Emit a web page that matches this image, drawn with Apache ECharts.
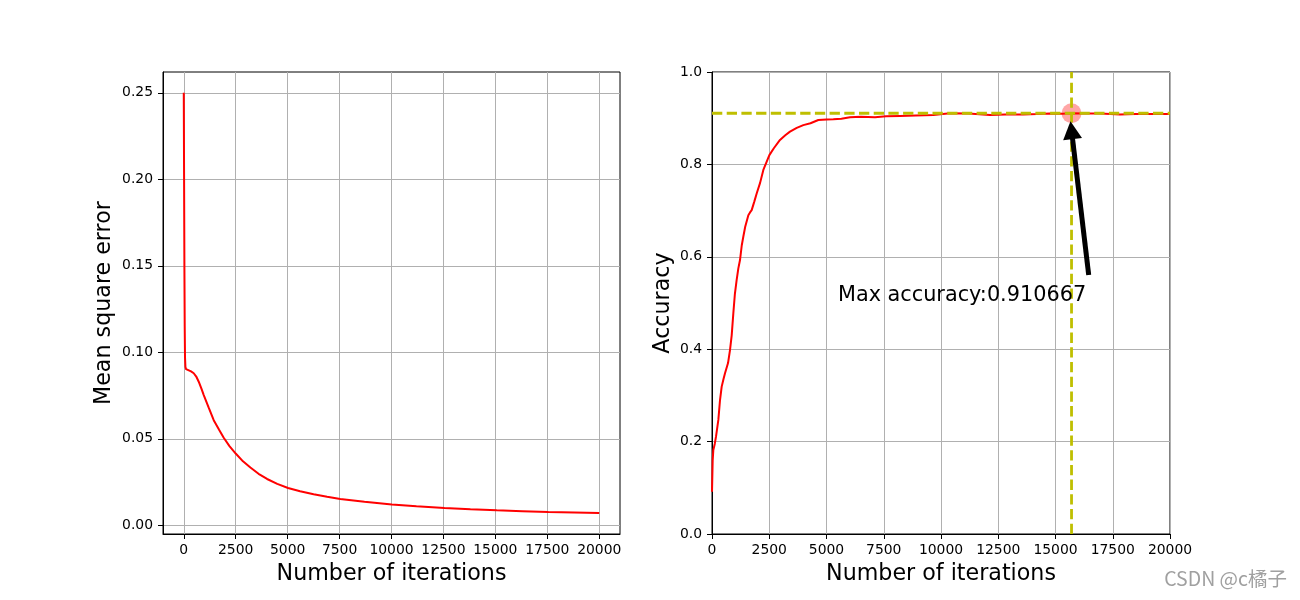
<!DOCTYPE html>
<html><head><meta charset="utf-8">
<script src="https://cdn.jsdelivr.net/npm/echarts@6/dist/echarts.min.js"></script>
<style>html,body{margin:0;padding:0;background:#fff}#c{width:1300px;height:600px}</style>
</head><body><div id="c"></div>
<script>
// ---- data ----
const mseIter = [0, 15, 30, 45, 60, 80, 110, 200, 350, 480, 600, 720, 850, 962, 1200, 1442, 1700, 1923, 2200, 2500, 2850, 3207, 3600, 4010, 4500, 5019, 5600, 6250, 6900, 7532, 8700, 10016, 11200, 12548, 13800, 15067, 16300, 17548, 18800, 20000];
const mseVal  = [0.25, 0.2, 0.15, 0.115, 0.097, 0.0915, 0.0903, 0.0898, 0.0890, 0.0879, 0.0860, 0.0830, 0.0790, 0.0753, 0.0680, 0.0608, 0.0553, 0.0506, 0.0458, 0.0415, 0.0370, 0.0334, 0.0298, 0.0268, 0.0240, 0.0216, 0.0197, 0.0180, 0.0165, 0.0152, 0.0136, 0.0120, 0.0110, 0.0100, 0.0093, 0.0087, 0.0082, 0.0077, 0.0074, 0.0071];

const accIter = [0, 30, 58, 120, 175, 277, 350, 423, 500, 568, 700, 786, 860, 932, 1000, 1077, 1150, 1223, 1300, 1369, 1450, 1587, 1660, 1733, 1850, 1951, 2100, 2242, 2380, 2505, 2700, 2969, 3200, 3406, 3700, 3988, 4300, 4643, 5000, 5298, 5650, 6026, 6500, 7118, 7600, 8210, 8900, 9664, 10393, 11200, 12140, 12800, 13581, 14200, 14760, 15300, 15700, 16300, 16943, 17400, 17817, 18500, 19200, 20000];
const accVal  = [0.0916, 0.16, 0.182, 0.195, 0.2106, 0.247, 0.29, 0.319, 0.335, 0.348, 0.37, 0.398, 0.43, 0.478, 0.52, 0.55, 0.575, 0.593, 0.625, 0.644, 0.665, 0.690, 0.696, 0.701, 0.72, 0.737, 0.76, 0.788, 0.805, 0.820, 0.835, 0.853, 0.863, 0.871, 0.879, 0.885, 0.889, 0.896, 0.897, 0.8976, 0.899, 0.902, 0.903, 0.902, 0.904, 0.905, 0.906, 0.907, 0.9105, 0.910, 0.907, 0.908, 0.908, 0.909, 0.910, 0.9095, 0.910667, 0.910, 0.910, 0.909, 0.908, 0.909, 0.909, 0.909];

const iterTicks = [0, 2500, 5000, 7500, 10000, 12500, 15000, 17500, 20000];
const mseTicks  = [0, 0.05, 0.10, 0.15, 0.20, 0.25];
const accTicks  = [0, 0.2, 0.4, 0.6, 0.8, 1.0];

const maxIter = 15700;
const maxAcc = 0.910667;
const annotText = 'Max accuracy:0.910667';
const annotPos = [5500, 0.5];
const arrowFrom = [16450, 0.5606];
const arrowTo = [15700, 0.874];

const xLabel = 'Number of iterations';
const yLabelL = 'Mean square error';
const yLabelR = 'Accuracy';
const watermark = 'CSDN @c橘子';

// ---- chart ----
const FONT = 'DejaVu Sans';
const tickStyle = {show: true, inside: false, length: 5, lineStyle: {color: '#000', width: 1}};
const splitStyle = {show: true, lineStyle: {color: '#b0b0b0', width: 1}};
const axisLine = {show: true, onZero: false, lineStyle: {color: '#000', width: 1}};
const lblBase = {color: '#000', fontFamily: FONT, fontSize: 13.9, showMinLabel: true, showMaxLabel: true};
const nameStyle = {color: '#000', fontFamily: FONT, fontSize: 22.2};

const chart = echarts.init(document.getElementById('c'), null, {renderer: 'canvas'});
const option = {
  animation: false,
  backgroundColor: '#fff',
  grid: [
    {left: 163, top: 72, width: 457, height: 462, show: true, borderColor: '#000', borderWidth: 1, backgroundColor: 'transparent'},
    {left: 712, top: 72, width: 458, height: 462, show: true, borderColor: '#000', borderWidth: 1, backgroundColor: 'transparent'}
  ],
  xAxis: [
    {type: 'value', gridIndex: 0, min: -1000, max: 21000,
     axisLine, axisTick: Object.assign({customValues: iterTicks}, tickStyle), splitLine: splitStyle,
     axisLabel: Object.assign({customValues: iterTicks, margin: 9, formatter: v => String(v)}, lblBase),
     name: xLabel, nameLocation: 'middle', nameGap: 29, nameTextStyle: nameStyle},
    {type: 'value', gridIndex: 1, min: 0, max: 20000, interval: 2500,
     axisLine, axisTick: tickStyle, splitLine: splitStyle,
     axisLabel: Object.assign({margin: 9, formatter: v => String(v)}, lblBase),
     name: xLabel, nameLocation: 'middle', nameGap: 29, nameTextStyle: nameStyle}
  ],
  yAxis: [
    {type: 'value', gridIndex: 0, min: -0.005, max: 0.262,
     axisLine, axisTick: Object.assign({customValues: mseTicks}, tickStyle), splitLine: splitStyle,
     axisLabel: Object.assign({customValues: mseTicks, margin: 10, formatter: v => v.toFixed(2)}, lblBase),
     name: yLabelL, nameLocation: 'middle', nameRotate: 90, nameGap: 48, nameTextStyle: nameStyle},
    {type: 'value', gridIndex: 1, min: 0, max: 1, interval: 0.2,
     axisLine, axisTick: tickStyle, splitLine: splitStyle,
     axisLabel: Object.assign({margin: 10, formatter: v => v.toFixed(1)}, lblBase),
     name: yLabelR, nameLocation: 'middle', nameRotate: 90, nameGap: 38, nameTextStyle: nameStyle}
  ],
  series: [
    {type: 'line', xAxisIndex: 0, yAxisIndex: 0, data: mseIter.map((x, i) => [x, mseVal[i]]),
     showSymbol: false, symbol: 'none', lineStyle: {color: '#ff0000', width: 2}, z: 3},
    {type: 'scatter', xAxisIndex: 1, yAxisIndex: 1, data: [[maxIter, maxAcc]],
     symbol: 'circle', symbolSize: 20, itemStyle: {color: 'rgba(255,0,0,0.35)', opacity: 1}, z: 2, silent: true},
    {type: 'line', xAxisIndex: 1, yAxisIndex: 1, data: accIter.map((x, i) => [x, accVal[i]]),
     showSymbol: false, symbol: 'none', lineStyle: {color: '#ff0000', width: 2}, z: 3},
    {type: 'line', xAxisIndex: 1, yAxisIndex: 1, data: [[0, maxAcc], [20000, maxAcc]],
     showSymbol: false, symbol: 'none', lineStyle: {color: '#bfbf00', width: 2.8, type: [10.3, 4.4]}, z: 4},
    {type: 'line', xAxisIndex: 1, yAxisIndex: 1, data: [[maxIter, 0], [maxIter, 1]],
     showSymbol: false, symbol: 'none', lineStyle: {color: '#bfbf00', width: 2.8, type: [10.3, 4.4]}, z: 4},
    {type: 'scatter', xAxisIndex: 1, yAxisIndex: 1, data: [annotPos], symbolSize: 0, z: 5, silent: true,
     itemStyle: {opacity: 1},
     label: {show: true, formatter: annotText, position: [0, 0], align: 'left', verticalAlign: 'bottom',
             offset: [0, 3], color: '#000', opacity: 1, fontFamily: FONT, fontSize: 20.8},
     markLine: {silent: true, animation: false, symbol: ['none', 'triangle'], symbolSize: [19, 18],
       label: {show: false}, lineStyle: {color: '#000', width: 5, type: 'solid', opacity: 1},
       data: [[{coord: arrowFrom}, {coord: arrowTo}]]}}
  ],
  graphic: [
    {type: 'text', right: 13, top: 569, style: {text: watermark, fill: '#a0a0a0', font: '19.5px "Noto Sans CJK SC", "DejaVu Sans"'}}
  ]
};
chart.setOption(option);
</script></body></html>
